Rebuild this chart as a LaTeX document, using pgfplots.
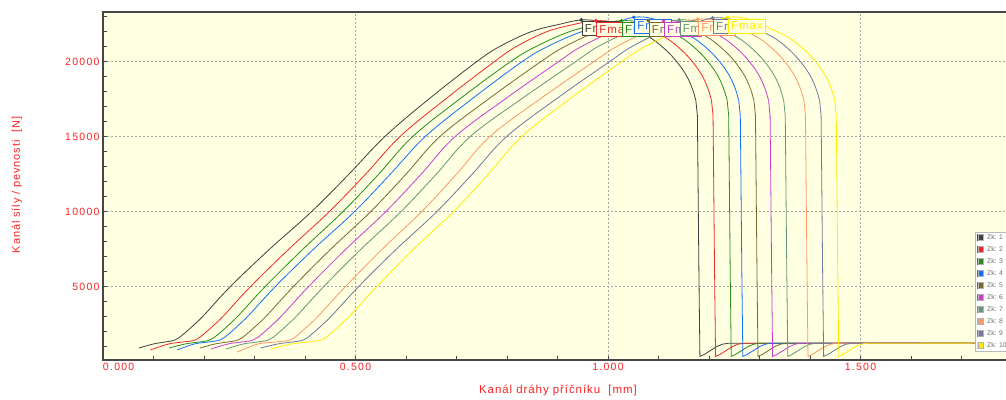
\documentclass[border=0pt]{standalone}
\usepackage{fontspec}
\setmainfont{Liberation Sans}
\newfontfamily\tickfont[LetterSpace=12]{Liberation Sans}
\newfontfamily\labfont[LetterSpace=8]{Liberation Sans}
\usepackage{pgfplots}
\pgfplotsset{compat=1.18}
\definecolor{c1}{RGB}{64,64,64}
\definecolor{c2}{RGB}{240,40,40}
\definecolor{c3}{RGB}{40,140,30}
\definecolor{c4}{RGB}{20,110,255}
\definecolor{c5}{RGB}{120,105,50}
\definecolor{c6}{RGB}{200,60,210}
\definecolor{c7}{RGB}{100,150,120}
\definecolor{c8}{RGB}{255,150,100}
\definecolor{c9}{RGB}{110,120,160}
\definecolor{c10}{RGB}{255,235,0}
\definecolor{bgyellow}{RGB}{255,255,225}
\definecolor{axgray}{RGB}{70,70,70}
\definecolor{gridgray}{RGB}{165,165,165}
\definecolor{tickred}{RGB}{250,35,35}
\definecolor{legtext}{RGB}{110,110,110}
\tikzset{fmax/.style={anchor=north west, fill=bgyellow, line width=0.6pt, inner sep=0pt, minimum width=37pt, minimum height=14pt, font=\labfont\fontsize{11.5}{12}\selectfont, yshift=-1.5pt, xshift=0.5pt}}
\begin{document}
\begin{tikzpicture}
\path[use as bounding box] (-103pt,-39pt) rectangle (903pt,360pt);
\begin{axis}[
  at={(0pt,0pt)}, anchor=south west,
  scale only axis, width=919.1pt, height=348pt,
  xmin=0, xmax=1.82, ymin=110, ymax=23310,
  scaled y ticks=false, scaled x ticks=false,
  axis background/.style={fill=bgyellow},
  axis line style={draw=axgray, line width=1.2pt},
  xtick={0,0.5,1,1.5},
  xticklabels={{\makebox[0pt][l]{0.000}},0.500,1.000,1.500},
  ytick={5000,10000,15000,20000},
  yticklabels={5000,10000,15000,20000},
  minor xtick={0.1,0.2,0.3,0.4,0.6,0.7,0.8,0.9,1.1,1.2,1.3,1.4,1.6,1.7,1.8},
  minor ytick={1000,2000,3000,4000,6000,7000,8000,9000,11000,12000,13000,14000,16000,17000,18000,19000,21000,22000,23000},
  tick align=inside, major tick length=4pt, minor tick length=4pt,
  tick style={draw=axgray, line width=0.6pt},
  xtick pos=left, ytick pos=left,
  xmajorgrids, ymajorgrids,
  major grid style={draw=gridgray, dash pattern=on 2pt off 2pt, line width=0.6pt},
  ticklabel style={font=\tickfont\fontsize{10.5}{12}\selectfont, text=tickred},
  xlabel={Kanál dráhy příčníku~~[mm]},
  ylabel={Kanál síly / pevnosti~~[N]},
  xlabel style={at={(axis description cs:0.495,-0.0862)}, anchor=center, font=\labfont\fontsize{11.5}{13}\selectfont, text=tickred},
  ylabel style={at={(axis description cs:-0.0936,0.503)}, anchor=center, font=\labfont\fontsize{11}{13}\selectfont, text=tickred},
  legend image code/.code={\fill[#1] (0pt,-3pt) rectangle (5pt,3pt); \draw[gray!60, line width=0.4pt] (0pt,-3pt) rectangle (5pt,3pt);},
  legend cell align=left,
  legend style={at={(0.9488,0.3678)}, anchor=north west, draw=gray!55, fill=white, line width=0.5pt, inner xsep=2pt, inner ysep=1pt, row sep=3.5pt, font=\fontsize{6.8}{7}\selectfont, nodes={inner sep=1pt, text height=5.5pt, text depth=1pt, text=legtext}, /tikz/every odd column/.append style={column sep=3pt}},
  every axis plot/.append style={line width=0.8pt, mark=none},
]
\addplot[c1, smooth, tension=0.6] coordinates {(0.071,910) (0.100,1180) (0.121,1300) (0.143,1450) (0.160,1850) (0.180,2450) (0.200,3100) (0.252,5000) (0.330,7500) (0.413,10000) (0.487,12500) (0.558,15000) (0.645,17500) (0.740,20000) (0.785,21000) (0.848,22000) (0.905,22500) (0.947,22780) (0.987,22660) (1.053,22100) (1.088,21500) (1.120,20600) (1.143,19700) (1.158,18900) (1.168,18100) (1.174,17400)};
\addplot[c1, forget plot] coordinates {(1.174,17400) (1.177,16400) (1.178,13000) (1.180,6000) (1.182,350) (1.190,470) (1.200,680) (1.215,1000) (1.226,1160) (1.238,1230) (1.82,1230)};
\addplot[c2, smooth, tension=0.6] coordinates {(0.094,780) (0.130,1180) (0.156,1300) (0.183,1450) (0.200,1850) (0.220,2450) (0.240,3100) (0.292,5000) (0.368,7500) (0.448,10000) (0.520,12500) (0.588,15000) (0.678,17500) (0.775,20000) (0.818,21000) (0.879,22000) (0.935,22500) (0.976,22730) (1.016,22610) (1.084,22100) (1.119,21500) (1.151,20600) (1.174,19700) (1.189,18900) (1.199,18100) (1.205,17400)};
\addplot[c2, forget plot] coordinates {(1.205,17400) (1.208,16400) (1.209,13000) (1.211,6000) (1.213,350) (1.221,470) (1.231,680) (1.246,1000) (1.257,1160) (1.269,1230) (1.82,1240)};
\addplot[c3, smooth, tension=0.6] coordinates {(0.131,910) (0.163,1180) (0.188,1300) (0.212,1450) (0.229,1850) (0.249,2450) (0.269,3100) (0.321,5000) (0.396,7500) (0.475,10000) (0.546,12500) (0.613,15000) (0.706,17500) (0.807,20000) (0.857,21000) (0.924,22000) (0.984,22500) (1.027,22730) (1.067,22610) (1.115,22100) (1.150,21500) (1.182,20600) (1.205,19700) (1.220,18900) (1.230,18100) (1.236,17400)};
\addplot[c3, forget plot] coordinates {(1.236,17400) (1.239,16400) (1.240,13000) (1.242,6000) (1.244,350) (1.252,470) (1.262,680) (1.277,1000) (1.288,1160) (1.300,1230) (1.82,1220)};
\addplot[c4, smooth, tension=0.6] coordinates {(0.147,780) (0.181,1180) (0.207,1300) (0.232,1450) (0.249,1850) (0.269,2450) (0.289,3100) (0.341,5000) (0.417,7500) (0.498,10000) (0.569,12500) (0.638,15000) (0.730,17500) (0.830,20000) (0.880,21000) (0.948,22000) (1.008,22500) (1.051,22960) (1.091,22840) (1.138,22100) (1.173,21500) (1.205,20600) (1.228,19700) (1.243,18900) (1.253,18100) (1.259,17400)};
\addplot[c4, forget plot] coordinates {(1.259,17400) (1.262,16400) (1.263,13000) (1.265,6000) (1.267,350) (1.275,470) (1.285,680) (1.300,1000) (1.311,1160) (1.323,1230) (1.82,1230)};
\addplot[c5, smooth, tension=0.6] coordinates {(0.192,910) (0.222,1180) (0.245,1300) (0.268,1450) (0.285,1850) (0.305,2450) (0.325,3100) (0.377,5000) (0.451,7500) (0.530,10000) (0.600,12500) (0.667,15000) (0.763,17500) (0.867,20000) (0.914,21000) (0.979,22000) (1.037,22500) (1.080,22730) (1.120,22610) (1.168,22100) (1.203,21500) (1.235,20600) (1.258,19700) (1.273,18900) (1.283,18100) (1.289,17400)};
\addplot[c5, forget plot] coordinates {(1.289,17400) (1.292,16400) (1.293,13000) (1.295,6000) (1.297,350) (1.305,470) (1.315,680) (1.330,1000) (1.341,1160) (1.353,1230) (1.82,1230)};
\addplot[c6, smooth, tension=0.6] coordinates {(0.214,850) (0.248,1180) (0.273,1300) (0.298,1450) (0.315,1850) (0.335,2450) (0.355,3100) (0.407,5000) (0.481,7500) (0.560,10000) (0.630,12500) (0.697,15000) (0.796,17500) (0.902,20000) (0.947,21000) (1.011,22000) (1.068,22500) (1.110,22730) (1.150,22610) (1.197,22100) (1.232,21500) (1.264,20600) (1.287,19700) (1.302,18900) (1.312,18100) (1.318,17400)};
\addplot[c6, forget plot] coordinates {(1.318,17400) (1.321,16400) (1.322,13000) (1.324,6000) (1.326,350) (1.334,470) (1.344,680) (1.359,1000) (1.370,1160) (1.382,1230) (1.82,1240)};
\addplot[c7, smooth, tension=0.6] coordinates {(0.244,850) (0.278,1180) (0.303,1300) (0.328,1450) (0.345,1850) (0.365,2450) (0.385,3100) (0.437,5000) (0.511,7500) (0.590,10000) (0.660,12500) (0.727,15000) (0.828,17500) (0.936,20000) (0.980,21000) (1.043,22000) (1.099,22500) (1.141,22780) (1.181,22660) (1.227,22100) (1.262,21500) (1.294,20600) (1.317,19700) (1.332,18900) (1.342,18100) (1.348,17400)};
\addplot[c7, forget plot] coordinates {(1.348,17400) (1.351,16400) (1.352,13000) (1.354,6000) (1.356,350) (1.364,470) (1.374,680) (1.389,1000) (1.400,1160) (1.412,1230) (1.82,1230)};
\addplot[c8, smooth, tension=0.6] coordinates {(0.265,630) (0.307,1180) (0.339,1300) (0.371,1450) (0.388,1850) (0.408,2450) (0.428,3100) (0.480,5000) (0.553,7500) (0.631,10000) (0.700,12500) (0.766,15000) (0.865,17500) (0.972,20000) (1.017,21000) (1.079,22000) (1.136,22500) (1.178,22830) (1.218,22710) (1.267,22100) (1.302,21500) (1.334,20600) (1.357,19700) (1.372,18900) (1.382,18100) (1.388,17400)};
\addplot[c8, forget plot] coordinates {(1.388,17400) (1.391,16400) (1.392,13000) (1.394,6000) (1.396,350) (1.404,470) (1.414,680) (1.429,1000) (1.440,1160) (1.452,1230) (1.82,1250)};
\addplot[c9, smooth, tension=0.6] coordinates {(0.312,910) (0.346,1180) (0.372,1300) (0.397,1450) (0.414,1850) (0.434,2450) (0.454,3100) (0.506,5000) (0.581,7500) (0.661,10000) (0.731,12500) (0.799,15000) (0.897,17500) (1.003,20000) (1.047,21000) (1.109,22000) (1.165,22500) (1.207,22910) (1.247,22790) (1.298,22100) (1.333,21500) (1.365,20600) (1.388,19700) (1.403,18900) (1.413,18100) (1.419,17400)};
\addplot[c9, forget plot] coordinates {(1.419,17400) (1.422,16400) (1.423,13000) (1.425,6000) (1.427,350) (1.435,470) (1.445,680) (1.460,1000) (1.471,1160) (1.483,1230) (1.82,1220)};
\addplot[c10, smooth, tension=0.6] coordinates {(0.332,830) (0.372,1180) (0.403,1300) (0.433,1450) (0.450,1850) (0.470,2450) (0.490,3100) (0.542,5000) (0.615,7500) (0.694,10000) (0.763,12500) (0.829,15000) (0.924,17500) (1.027,20000) (1.073,21000) (1.137,22000) (1.195,22500) (1.237,22960) (1.277,22840) (1.328,22100) (1.363,21500) (1.395,20600) (1.418,19700) (1.433,18900) (1.443,18100) (1.449,17400)};
\addplot[c10, forget plot] coordinates {(1.449,17400) (1.452,16400) (1.453,13000) (1.455,6000) (1.457,350) (1.465,470) (1.475,680) (1.490,1000) (1.501,1160) (1.513,1230) (1.82,1240)};
\legend{Zk: 1,Zk: 2,Zk: 3,Zk: 4,Zk: 5,Zk: 6,Zk: 7,Zk: 8,Zk: 9,Zk: 10}
\node[fmax, draw=c1, text=c1] at (axis cs:0.947,22780) {Fmax};
\node[fmax, draw=c2, text=c2] at (axis cs:0.976,22730) {Fmax};
\node[fmax, draw=c3, text=c3] at (axis cs:1.027,22730) {Fmax};
\node[fmax, draw=c4, text=c4] at (axis cs:1.051,22960) {Fmax};
\node[fmax, draw=c5, text=c5] at (axis cs:1.080,22730) {Fmax};
\node[fmax, draw=c6, text=c6] at (axis cs:1.110,22730) {Fmax};
\node[fmax, draw=c7, text=c7] at (axis cs:1.141,22780) {Fmax};
\node[fmax, draw=c8, text=c8] at (axis cs:1.178,22830) {Fmax};
\node[fmax, draw=c9, text=c9] at (axis cs:1.207,22910) {Fmax};
\node[fmax, draw=c10, text=c10] at (axis cs:1.237,22960) {Fmax};
\addplot[c1, only marks, mark=*, mark size=1.4pt, forget plot] coordinates {(0.947,22780)};
\addplot[c2, only marks, mark=*, mark size=1.4pt, forget plot] coordinates {(0.976,22730)};
\addplot[c3, only marks, mark=*, mark size=1.4pt, forget plot] coordinates {(1.027,22730)};
\addplot[c4, only marks, mark=*, mark size=1.4pt, forget plot] coordinates {(1.051,22960)};
\addplot[c5, only marks, mark=*, mark size=1.4pt, forget plot] coordinates {(1.080,22730)};
\addplot[c6, only marks, mark=*, mark size=1.4pt, forget plot] coordinates {(1.110,22730)};
\addplot[c7, only marks, mark=*, mark size=1.4pt, forget plot] coordinates {(1.141,22780)};
\addplot[c8, only marks, mark=*, mark size=1.4pt, forget plot] coordinates {(1.178,22830)};
\addplot[c9, only marks, mark=*, mark size=1.4pt, forget plot] coordinates {(1.207,22910)};
\addplot[c10, only marks, mark=*, mark size=1.4pt, forget plot] coordinates {(1.237,22960)};
\end{axis}
\end{tikzpicture}
\end{document}
